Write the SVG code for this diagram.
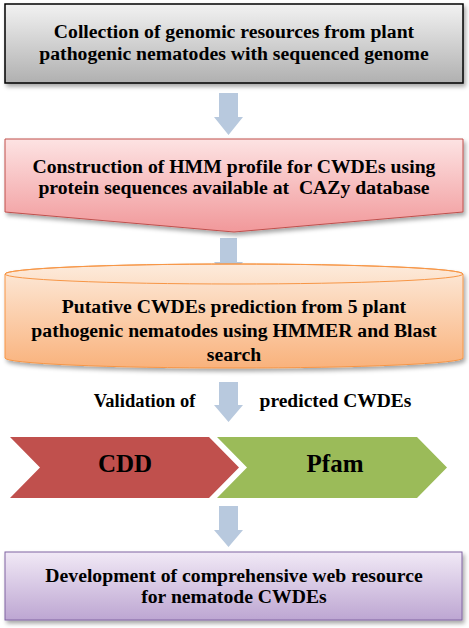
<svg xmlns="http://www.w3.org/2000/svg" width="469" height="628" viewBox="0 0 469 628">
<defs>
<linearGradient id="gGrey" x1="0" y1="0" x2="0" y2="1"><stop offset="0" stop-color="#f2f2f2"/><stop offset="1" stop-color="#b0b0b0"/></linearGradient>
<linearGradient id="gPink" x1="0" y1="0" x2="0" y2="1"><stop offset="0" stop-color="#fde3e3"/><stop offset="1" stop-color="#f1989a"/></linearGradient>
<linearGradient id="gOrange" x1="0" y1="0" x2="0" y2="1"><stop offset="0" stop-color="#fdebdc"/><stop offset="1" stop-color="#f9b27c"/></linearGradient>
<linearGradient id="gPurple" x1="0" y1="0" x2="0" y2="1"><stop offset="0" stop-color="#f1e9f6"/><stop offset="1" stop-color="#bda6d2"/></linearGradient>
<filter id="sh" x="-5%" y="-10%" width="112%" height="130%"><feDropShadow dx="2" dy="3" stdDeviation="2" flood-color="#000" flood-opacity="0.35"/></filter>
</defs>
<style>
text{font-family:'Liberation Serif','Times New Roman',serif;font-weight:bold;fill:#000;text-anchor:middle;font-size:19.7px}
.arr{fill:#b8c9de}
</style>
<g id="connectors">
<path class="arr" d="M219,93 H238 V117 H243 L228.5,135 L214,117 H219 Z"/>
<path class="arr" d="M220,238 H237 V262 H243 L228.5,279 L214,262 H220 Z"/>
<path class="arr" d="M219,382 H238 V405 H243 L228.5,422 L214,405 H219 Z"/>
<path class="arr" d="M219,506 H238 V530 H243 L228.5,547 L214,530 H219 Z"/>
</g>
<g id="node1">
<rect x="5" y="4" width="458" height="79" fill="url(#gGrey)" stroke="#000" stroke-width="1.5" filter="url(#sh)"/>
<text x="234" y="38">Collection of genomic resources from plant</text>
<text x="234" y="60">pathogenic nematodes with sequenced genome</text>
</g>
<g id="node2">
<path d="M5,139 H463 V212 L234,232 L5,212 Z" fill="url(#gPink)" stroke="#c0504d" stroke-width="1" filter="url(#sh)"/>
<text x="234" y="173">Construction of HMM profile for CWDEs using</text>
<text x="234" y="194" xml:space="preserve">protein sequences available at  CAZy database</text>
</g>
<g id="node3">
<path d="M5,274 V358 A229,10 0 0 0 463,358 V274 A229,10 0 0 0 5,274 Z" fill="url(#gOrange)" stroke="#f79646" stroke-width="1" filter="url(#sh)"/>
<ellipse cx="234" cy="274" rx="229" ry="10" fill="none" stroke="#f79646" stroke-width="1"/>
<text x="234" y="313">Putative CWDEs prediction from 5 plant</text>
<text x="234" y="337">pathogenic nematodes using HMMER and Blast</text>
<text x="234" y="361">search</text>
</g>
<g id="label">
<text x="144.5" y="407" style="font-size:18.5px">Validation of</text>
<text x="335.5" y="407" style="font-size:19.5px">predicted CWDEs</text>
</g>
<g id="cdd">
<path d="M10,437 H209 L239,467.5 L209,498 H10 L40,467.5 Z" fill="#c0504d"/>
<text x="125" y="472" style="font-size:25px">CDD</text>
</g>
<g id="pfam">
<path d="M217,437 H417 L447,467.5 L417,498 H217 L247,467.5 Z" fill="#9bbb59"/>
<text x="335" y="472" style="font-size:25px">Pfam</text>
</g>
<g id="node5">
<rect x="5" y="552" width="457" height="68" fill="url(#gPurple)" stroke="#8064a2" stroke-width="1" filter="url(#sh)"/>
<text x="234" y="582">Development of comprehensive web resource</text>
<text x="234" y="603">for nematode CWDEs</text>
</g>
</svg>
